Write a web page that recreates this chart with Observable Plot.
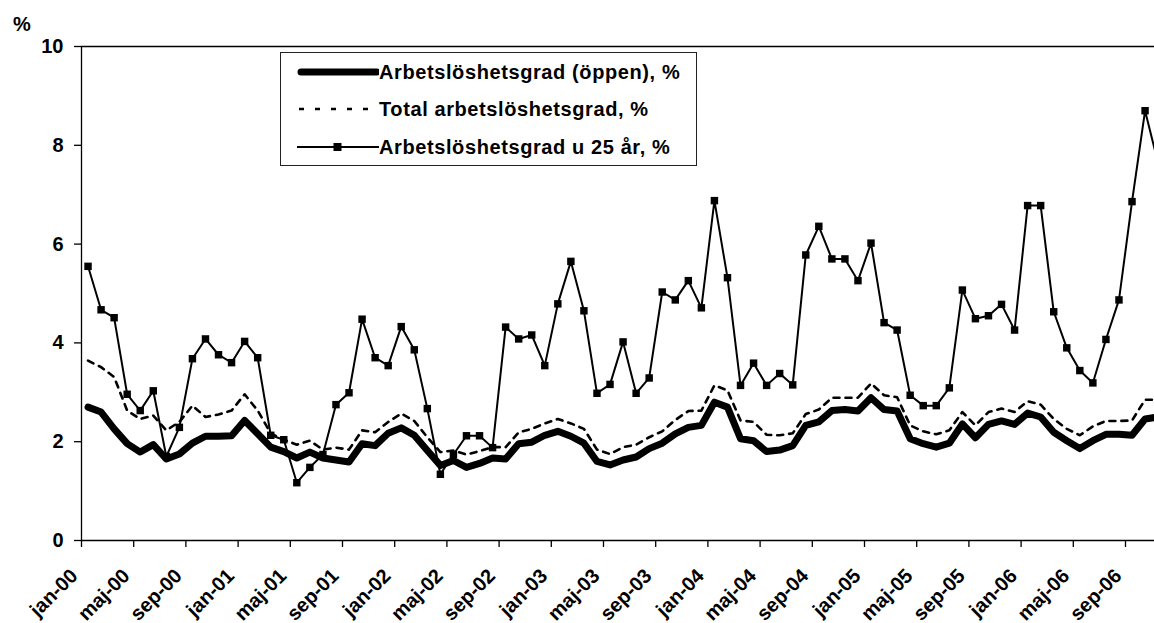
<!DOCTYPE html>
<html><head><meta charset="utf-8">
<script src="https://cdn.jsdelivr.net/npm/d3@7"></script>
<script src="https://cdn.jsdelivr.net/npm/@observablehq/plot@0.6"></script>
<style>
html,body{margin:0;padding:0;background:#fff;overflow:hidden}
#wrap{position:relative;width:1154px;height:623px;font-family:Arial,"Liberation Sans",sans-serif;font-weight:bold}
#legend{position:absolute;left:280px;top:52px;width:415px;height:112px;border:1.5px solid #222;background:#fff;box-sizing:content-box}
.row{position:absolute;left:0;height:26px;display:flex;align-items:center}
.row svg{display:block}
.row span{font-size:20px;letter-spacing:0.6px;color:#000;white-space:nowrap}
</style></head>
<body><div id="wrap"></div>
<script>
// Labels every fourth month (jan, maj, sep)
const tickLabels = ["jan-00","maj-00","sep-00","jan-01","maj-01","sep-01","jan-02","maj-02","sep-02","jan-03","maj-03","sep-03","jan-04","maj-04","sep-04","jan-05","maj-05","sep-05","jan-06","maj-06","sep-06"];
const seriesNames = ["Arbetslöshetsgrad (öppen), %","Total arbetslöshetsgrad, %","Arbetslöshetsgrad u 25 år, %"];
const yTicks = [0,2,4,6,8,10];
// Monthly values, jan-00 ... nov-06
const oppen = [2.70,2.60,2.26,1.96,1.79,1.94,1.65,1.75,1.97,2.11,2.11,2.12,2.43,2.16,1.89,1.80,1.67,1.79,1.67,1.63,1.59,1.96,1.92,2.17,2.28,2.13,1.82,1.52,1.62,1.48,1.56,1.67,1.65,1.96,1.99,2.13,2.21,2.11,1.97,1.60,1.53,1.63,1.69,1.86,1.97,2.16,2.29,2.33,2.80,2.70,2.06,2.02,1.80,1.83,1.92,2.33,2.40,2.63,2.65,2.62,2.89,2.65,2.62,2.06,1.96,1.89,1.97,2.36,2.08,2.35,2.42,2.35,2.58,2.50,2.19,2.02,1.86,2.02,2.15,2.15,2.13,2.46,2.50];
const total = [3.64,3.51,3.31,2.63,2.46,2.53,2.23,2.40,2.73,2.50,2.55,2.63,2.96,2.63,2.17,2.04,1.94,2.02,1.84,1.88,1.84,2.23,2.19,2.40,2.57,2.42,2.09,1.79,1.82,1.74,1.81,1.89,1.89,2.19,2.26,2.37,2.46,2.37,2.26,1.84,1.75,1.89,1.94,2.09,2.21,2.44,2.62,2.63,3.14,3.04,2.43,2.40,2.14,2.13,2.17,2.56,2.65,2.89,2.89,2.89,3.18,2.94,2.90,2.33,2.21,2.15,2.23,2.60,2.33,2.60,2.67,2.60,2.82,2.75,2.46,2.26,2.13,2.31,2.42,2.42,2.43,2.85,2.85];
const u25 = [5.55,4.67,4.51,2.96,2.63,3.03,1.70,2.29,3.68,4.08,3.76,3.60,4.03,3.70,2.13,2.04,1.17,1.48,1.74,2.75,2.99,4.48,3.70,3.54,4.33,3.86,2.67,1.34,1.74,2.12,2.12,1.88,4.32,4.08,4.16,3.54,4.79,5.65,4.65,2.98,3.16,4.02,2.98,3.29,5.03,4.87,5.26,4.71,6.88,5.32,3.14,3.59,3.14,3.38,3.15,5.78,6.36,5.70,5.70,5.26,6.02,4.41,4.26,2.94,2.73,2.73,3.09,5.07,4.49,4.55,4.78,4.26,6.78,6.78,4.63,3.90,3.44,3.19,4.07,4.87,6.86,8.70,7.64];

const rows = a => a.map((v, i) => ({i, v}));
const labelRows = tickLabels.map((t, k) => ({i: k * 4, t}));
const boundaries = tickLabels.map((t, k) => k * 4 - 0.5);

const W = 1154, H = 623, mL = 81, mT = 46, mB = 83;
const monthW = 13.05;
const xMax = (W - mL) / monthW - 0.5;

const font = "Arial, 'Liberation Sans', sans-serif";
const chart = Plot.plot({
  width: W, height: H,
  marginLeft: mL, marginRight: 0, marginTop: mT, marginBottom: mB,
  style: {fontFamily: font, fontWeight: "bold", fontSize: "20px", background: "#fff", color: "#000", overflow: "visible"},
  x: {type: "linear", domain: [-0.5, xMax], axis: null},
  y: {domain: [0, 10], axis: null},
  marks: [
    Plot.ruleY([10], {stroke: "#000", strokeWidth: 1.3}),
    Plot.ruleY([0], {stroke: "#000", strokeWidth: 1.3}),
    Plot.ruleX([-0.5], {stroke: "#000", strokeWidth: 1.3}),
    Plot.axisY(yTicks, {tickSize: 7, tickPadding: 11, label: null, fontSize: 20, fontWeight: "bold", strokeWidth: 1.3}),
    Plot.axisX(boundaries, {tickSize: 7, tickFormat: () => "", label: null, strokeWidth: 1.3}),
    Plot.text(labelRows, {x: "i", frameAnchor: "bottom", text: "t", rotate: -45, textAnchor: "end", lineAnchor: "middle", dx: -13.8, dy: 32, fontSize: 20, fontWeight: "bold"}),
    Plot.text(["%"], {frameAnchor: "top-left", dx: -68.5, dy: -30, fontSize: 20, fontWeight: "bold"}),
    Plot.lineY(rows(oppen), {x: "i", y: "v", stroke: "#000", strokeWidth: 7, strokeLinejoin: "round", clip: true}),
    Plot.lineY(rows(total), {x: "i", y: "v", stroke: "#000", strokeWidth: 2.6, strokeDasharray: "6,6", clip: true}),
    Plot.lineY(rows(u25), {x: "i", y: "v", stroke: "#000", strokeWidth: 2, clip: true}),
    Plot.dot(rows(u25), {x: "i", y: "v", symbol: "square", r: 4.2, fill: "#000", stroke: null, clip: true})
  ]
});
const wrap = document.getElementById("wrap");
wrap.appendChild(chart);

// Legend overlay
const legend = document.createElement("div");
legend.id = "legend";
const samples = [
  '<line x1="4" y1="13" x2="80" y2="13" stroke="#000" stroke-width="7" stroke-linecap="round"/>',
  '<line x1="2" y1="13" x2="82" y2="13" stroke="#000" stroke-width="2.6" stroke-dasharray="5,11"/>',
  '<line x1="0" y1="13" x2="82" y2="13" stroke="#000" stroke-width="2"/><rect x="36.5" y="9" width="8" height="8" fill="#000"/>'
];
const rowTops = [6, 43, 81];
seriesNames.forEach((name, k) => {
  const r = document.createElement("div");
  r.className = "row";
  r.style.top = rowTops[k] + "px";
  r.style.left = "16px";
  r.innerHTML = '<svg width="82" height="26">' + samples[k] + '</svg><span>' + name + '</span>';
  legend.appendChild(r);
});
wrap.appendChild(legend);
</script>
</body></html>
